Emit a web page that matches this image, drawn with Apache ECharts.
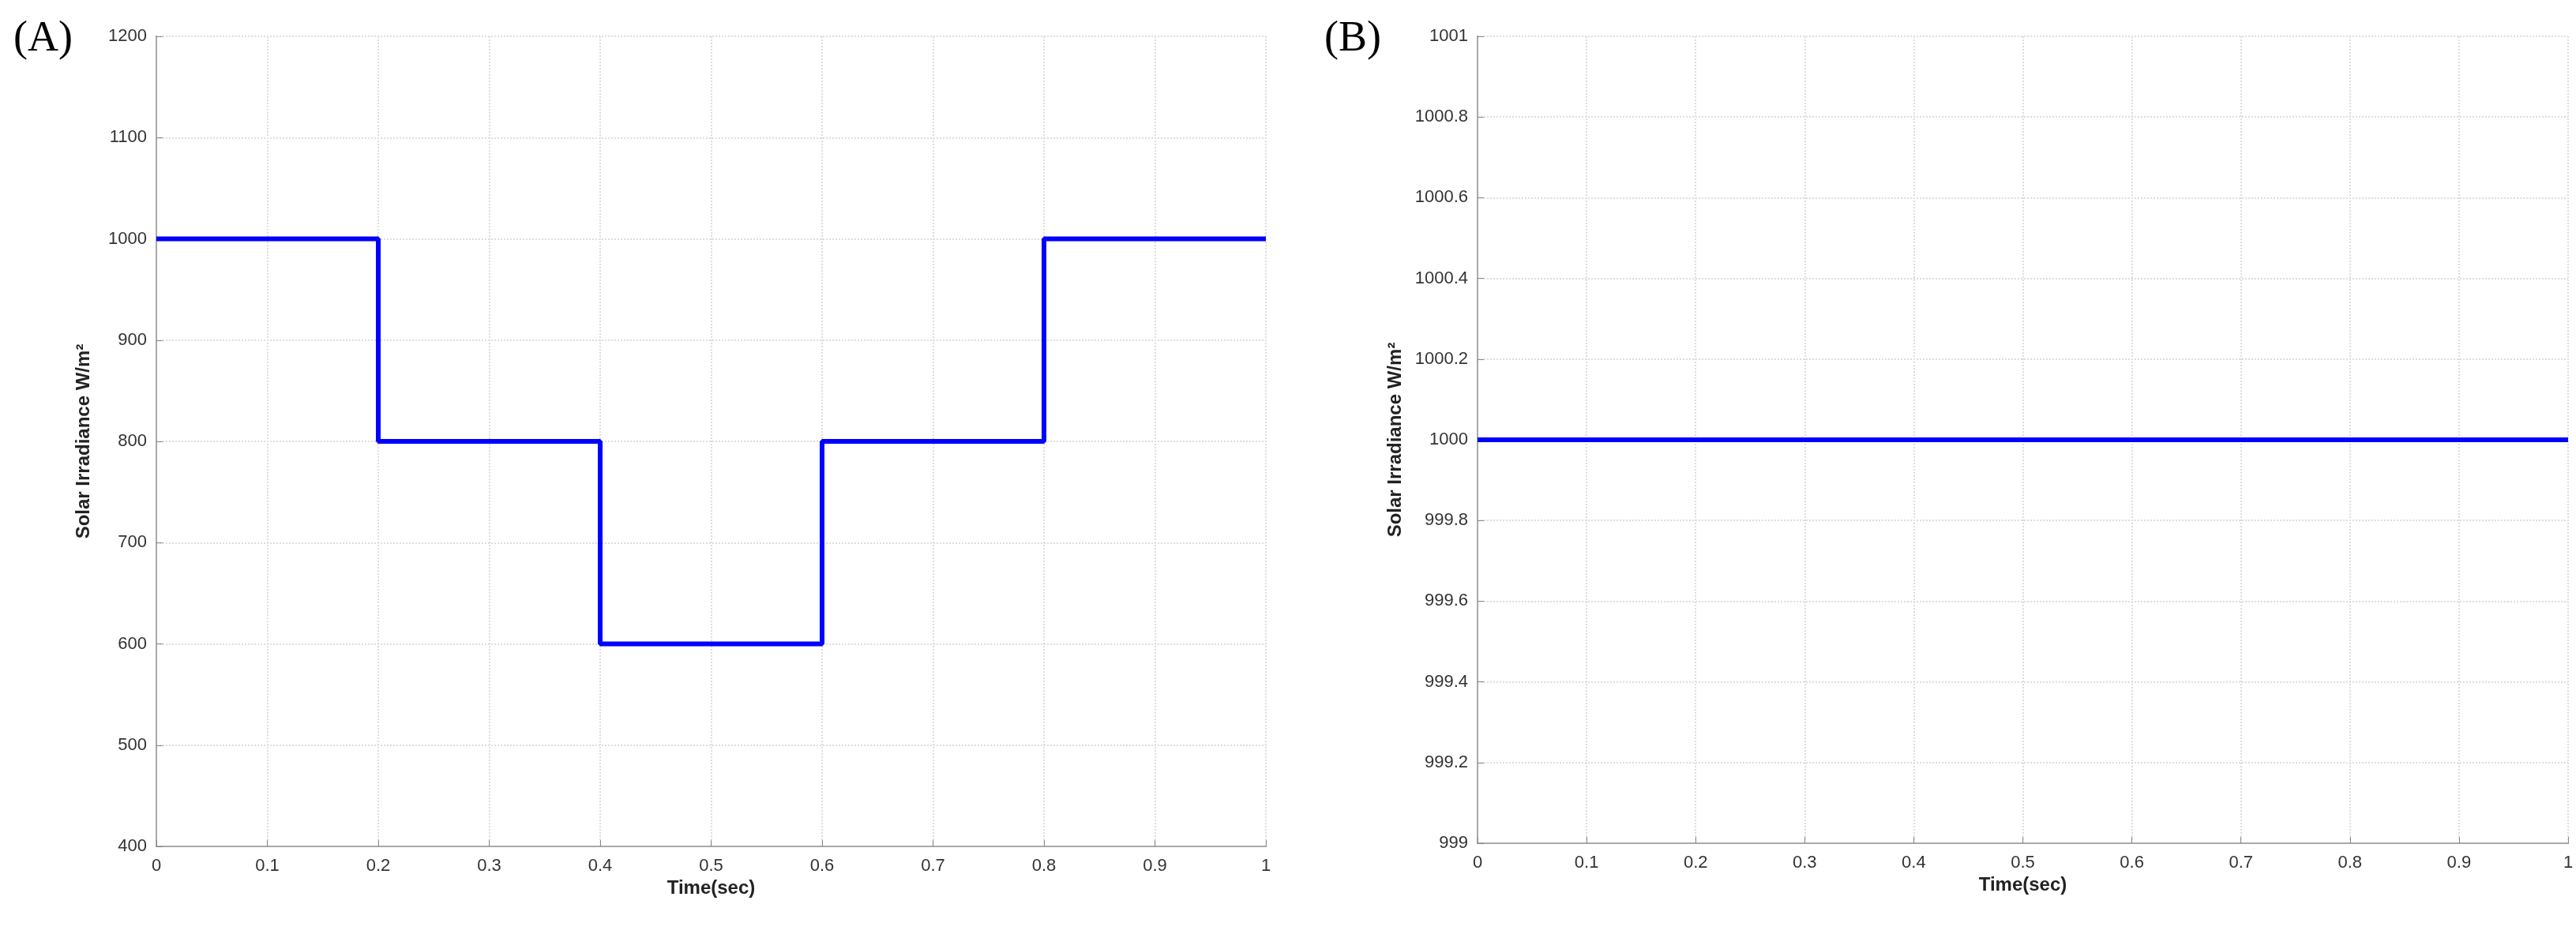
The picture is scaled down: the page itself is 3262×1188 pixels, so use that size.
<!DOCTYPE html>
<html><head><meta charset="utf-8">
<script src="https://cdn.jsdelivr.net/npm/echarts@6/dist/echarts.min.js"></script>
<style>html,body{margin:0;background:#fff}#chart{width:3262px;height:1188px}</style>
</head><body><div id="chart"></div>
<script>
// panel A: stepped irradiance profile
var timeA = [0, 0.2, 0.2, 0.4, 0.4, 0.6, 0.6, 0.8, 0.8, 1];
var irrA = [1000, 1000, 800, 800, 600, 600, 800, 800, 1000, 1000];
// panel B: constant irradiance
var timeB = [0, 1];
var irrB = [1000, 1000];

var tickFont = {color:'#333', fontSize:22, fontFamily:'Liberation Sans'};
var nameFont = {color:'#222', fontSize:24, fontWeight:'bold', fontFamily:'Liberation Sans'};

function xAxisFor(idx){
	return {
		gridIndex:idx, type:'value', min:0, max:1, interval:0.1,
		name:'Time(sec)', nameLocation:'middle', nameGap:40, nameTextStyle:nameFont,
		axisLabel:Object.assign({margin:14, formatter:function(v){return +v.toFixed(1)+'';}}, tickFont),
		axisLine:{onZero:false, lineStyle:{color:'#888', width:2}},
		axisTick:{inside:true, length:8, lineStyle:{color:'#888'}},
		splitLine:{show:true, lineStyle:{color:'#ddd', type:'dotted', width:2}}
	};
}
function yAxisFor(idx,min,max,iv,gap){
	return {
		gridIndex:idx, type:'value', min:min, max:max, interval:iv,
		name:'Solar Irradiance W/m²', nameLocation:'middle', nameGap:gap, nameTextStyle:nameFont,
		axisLabel:Object.assign({margin:12, formatter:function(v){return +v.toFixed(1)+'';}}, tickFont),
		axisLine:{lineStyle:{color:'#888', width:2}},
		axisTick:{inside:true, length:8, lineStyle:{color:'#888'}},
		splitLine:{show:true, lineStyle:{color:'#ddd', type:'dotted', width:2}}
	};
}
// box edges (top/right) like MATLAB
function boxAxisX(idx){return {gridIndex:idx,type:'value',min:0,max:1,position:'top',axisLine:{lineStyle:{color:'#aaa',width:2}},axisTick:{show:false},axisLabel:{show:false},splitLine:{show:false}};}
function boxAxisY(idx){return {gridIndex:idx,type:'value',min:0,max:1,position:'right',axisLine:{lineStyle:{color:'#aaa',width:2}},axisTick:{show:false},axisLabel:{show:false},splitLine:{show:false}};}

var chart = echarts.init(document.getElementById('chart'));
chart.setOption({
	animation:false,
	backgroundColor:'#fff',
	title:[
		{text:'(A)', left:12, top:18, textStyle:{fontFamily:'Liberation Serif', fontSize:54, fontWeight:'normal', color:'#000'}},
		{text:'(B)', left:1672, top:18, textStyle:{fontFamily:'Liberation Serif', fontSize:54, fontWeight:'normal', color:'#000'}}
	],
	grid:[
		{left:198, top:46, width:1405, height:1026},
		{left:1871, top:46, width:1381, height:1022}
	],
	xAxis:[xAxisFor(0), xAxisFor(1), boxAxisX(0), boxAxisX(1)],
	yAxis:[yAxisFor(0,400,1200,100,80), yAxisFor(1,999,1001,0.2,92), boxAxisY(0), boxAxisY(1)],
	series:[
		{type:'line', xAxisIndex:0, yAxisIndex:0, data:timeA.map(function(t,i){return [t,irrA[i]];}),
		 showSymbol:false, lineStyle:{color:'#0000ff', width:6}},
		{type:'line', xAxisIndex:1, yAxisIndex:1, data:timeB.map(function(t,i){return [t,irrB[i]];}),
		 showSymbol:false, lineStyle:{color:'#0000ff', width:6}}
	]
});
</script></body></html>
